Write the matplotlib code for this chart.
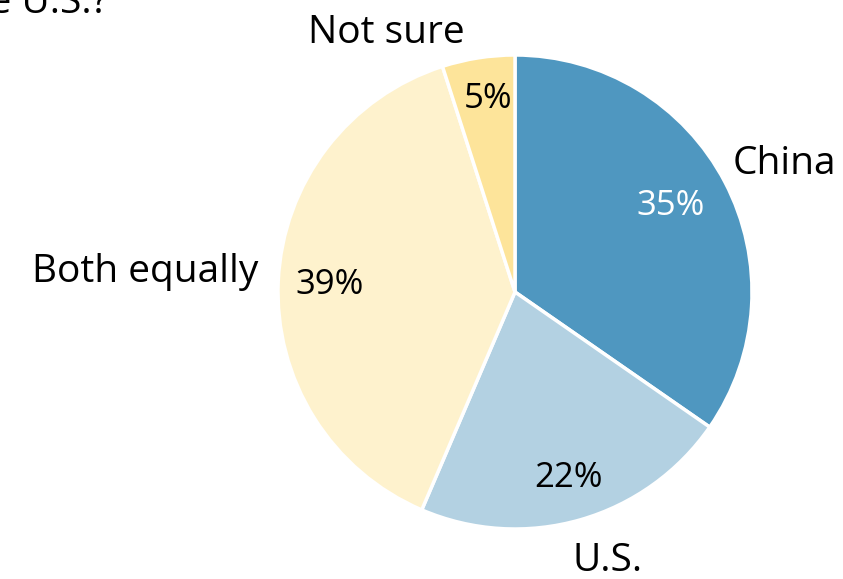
import matplotlib.pyplot as plt

categories = ["China", "U.S.", "Both equally", "Not sure"]
values = [35, 22, 39, 5]
pct_labels = ["35%", "22%", "39%", "5%"]
colors = ["#4F97C0", "#B3D1E2", "#FEF2CD", "#FDE49A"]
title_fragment = "Who benefits more, China or the U.S.?"

W, H = 843, 579
fig = plt.figure(figsize=(W / 100, H / 100), dpi=100)
ax = fig.add_axes([0, 0, 1, 1])

cx, cy, r = 515, H - 292, 237
ax.pie(values, colors=colors, startangle=90, counterclock=False,
       center=(cx, cy), radius=r, frame=True,
       wedgeprops=dict(edgecolor="white", linewidth=2.5))
ax.set_xlim(0, W)
ax.set_ylim(0, H)
ax.set_aspect("equal")
ax.axis("off")

font = "Open Sans"
fs_lab = 28
fs_pct = 25
# category labels: (x, baseline y) in pixels from top-left
label_pos = [(784, 174, "center"), (608, 571, "center"), (258, 282, "right"), (386, 43, "center")]
for name, (x, y, ha) in zip(categories, label_pos):
    ax.text(x, H - y, name, ha=ha, va="baseline", fontsize=fs_lab, family=font, color="black")

pct_pos = [(671, 215), (568, 487), (330, 294), (488, 108)]
pct_colors = ["white", "black", "black", "black"]
for t, (x, y), c in zip(pct_labels, pct_pos, pct_colors):
    ax.text(x, H - y, t, ha="center", va="baseline", fontsize=fs_pct, family=font, color=c)

ax.text(108, H - 13, title_fragment, ha="right", va="baseline", fontsize=fs_lab, family=font, color="black")

fig.savefig("out.png", dpi=100)
